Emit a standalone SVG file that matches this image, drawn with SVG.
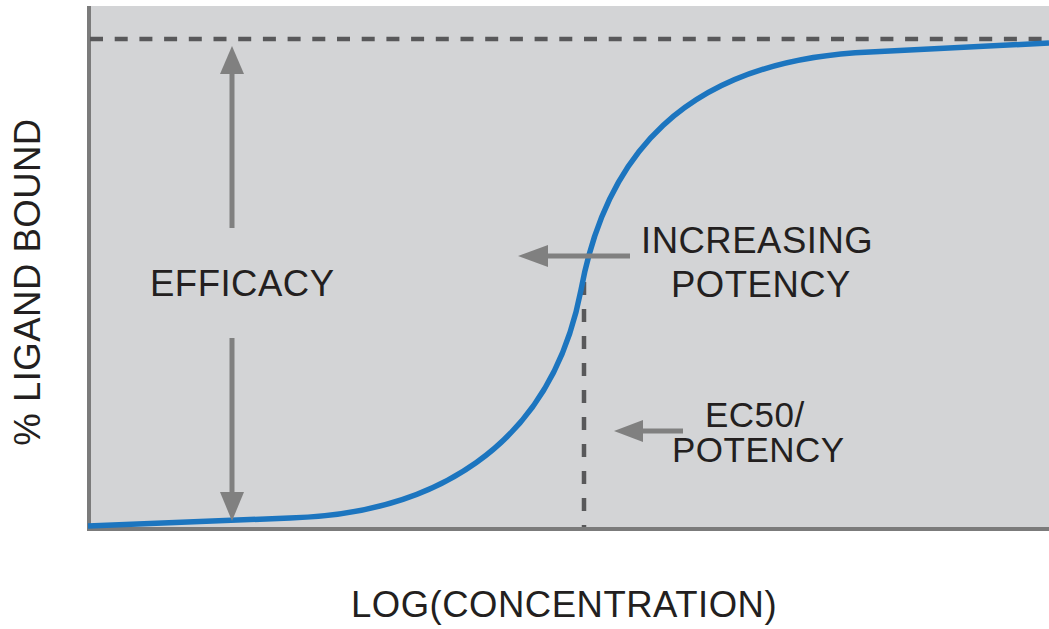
<svg xmlns="http://www.w3.org/2000/svg" width="1049" height="629" viewBox="0 0 1049 629">
  <style>
    .lbl { font-family: "Liberation Sans", Arial, Helvetica, sans-serif; font-size: 36.5px; fill: #231f20; letter-spacing: 0.5px; }
    .sm { font-size: 35px; }
    .arrow { stroke: #808080; stroke-width: 5; fill: none; }
    .head { fill: #808080; }
    .dash { stroke: #58585a; stroke-width: 4.5; fill: none; }
  </style>
  <rect x="0" y="0" width="1049" height="629" fill="#ffffff"/>
  <g id="plot-area">
    <rect x="88" y="6" width="961" height="522" fill="#d3d4d6"/>
    <line x1="89" y1="6" x2="89" y2="531" stroke="#7b7b7b" stroke-width="4"/>
    <line x1="87" y1="529" x2="1049" y2="529" stroke="#7b7b7b" stroke-width="4"/>
  </g>
  <g id="connectors">
    <line class="dash" x1="90" y1="39" x2="1049" y2="39" stroke-dasharray="13 11.7"/>
    <line class="dash" x1="584" y1="282" x2="584" y2="527" stroke-dasharray="13 14"/>
    <path id="dose-response-curve" d="M88,526 L290,518 C430,514 550,450 581,290 C605,160 680,60 870,52 L1049,43" fill="none" stroke="#1c75bf" stroke-width="5.5"/>
    <line class="arrow" x1="232" y1="228" x2="232" y2="70"/>
    <polygon class="head" points="232,46 244,74 220,74"/>
    <line class="arrow" x1="232" y1="338" x2="232" y2="496"/>
    <polygon class="head" points="232,521 244,492 220,492"/>
    <line class="arrow" x1="630" y1="256" x2="545" y2="256"/>
    <polygon class="head" points="518,256 548,245 548,267"/>
    <line class="arrow" x1="683" y1="431" x2="640" y2="431"/>
    <polygon class="head" points="614,431 643,420 643,442"/>
  </g>
  <g id="label-efficacy">
    <text class="lbl" x="150" y="296">EFFICACY</text>
  </g>
  <g id="label-increasing-potency">
    <text class="lbl" x="641" y="253">INCREASING</text>
    <text class="lbl" x="671" y="297">POTENCY</text>
  </g>
  <g id="label-ec50">
    <text class="lbl sm" x="705" y="427">EC50/</text>
    <text class="lbl sm" x="672" y="462" letter-spacing="1">POTENCY</text>
  </g>
  <g id="axis-x-label">
    <text class="lbl" x="351" y="617">LOG(CONCENTRATION)</text>
  </g>
  <g id="axis-y-label">
    <text class="lbl" transform="translate(40,282) rotate(-90)" text-anchor="middle">% LIGAND BOUND</text>
  </g>
</svg>
